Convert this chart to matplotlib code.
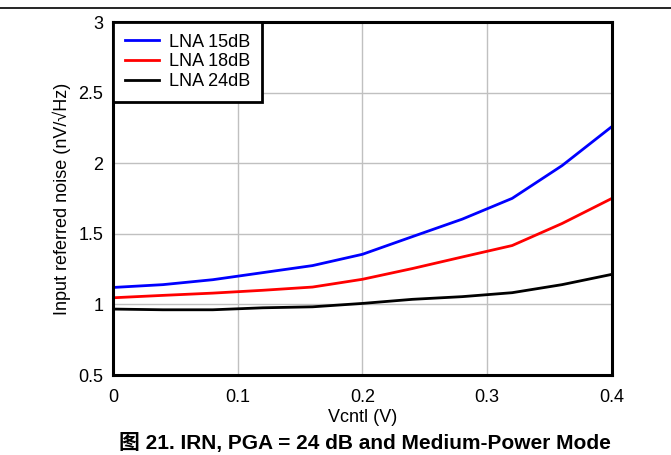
import numpy as np
import matplotlib.pyplot as plt
from matplotlib.lines import Line2D

plt.rcParams['font.family'] = ['Liberation Sans', 'Noto Sans CJK SC', 'DejaVu Sans']

# -------------------------------------------------------
# Data
# -------------------------------------------------------

vcntl = [0.0, 0.04, 0.08, 0.12, 0.16, 0.20, 0.24, 0.28, 0.32, 0.36, 0.40]

lna_15 = [1.12, 1.14, 1.175, 1.225, 1.275, 1.355, 1.48, 1.604, 1.751, 1.983, 2.26]
lna_18 = [1.047, 1.064, 1.08, 1.10, 1.123, 1.178, 1.254, 1.336, 1.417, 1.573, 1.751]
lna_24 = [0.967, 0.962, 0.962, 0.976, 0.983, 1.007, 1.036, 1.055, 1.083, 1.14, 1.213]

labels = ["LNA 15dB", "LNA 18dB", "LNA 24dB"]
colors = ["#0000ff", "#ff0000", "#000000"]

xticks = [0, 0.1, 0.2, 0.3, 0.4]
xtick_labels = ["0", "0.1", "0.2", "0.3", "0.4"]
yticks = [0.5, 1, 1.5, 2, 2.5, 3]
ytick_labels = ["0.5", "1", "1.5", "2", "2.5", "3"]

# -------------------------------------------------------
# Plot
# -------------------------------------------------------

fig = plt.figure(figsize=(6.71, 4.55), dpi=100)
ax = fig.add_axes([0.1684, 0.1758, 0.7436, 0.7758])

for ys, lab, col in zip([lna_15, lna_18, lna_24], labels, colors):
    ax.plot(vcntl, ys, color=col, linewidth=2, label=lab)

ax.set_xlim(0, 0.4)
ax.set_ylim(0.5, 3)
ax.set_xticks(xticks)
ax.set_xticklabels(xtick_labels)
ax.set_yticks(yticks)
ax.set_yticklabels(ytick_labels)
ax.tick_params(length=0, labelsize=13)
ax.tick_params(axis="x", pad=10)
ax.tick_params(axis="y", pad=7)

ax.grid(True, color="#c0c0c0", linewidth=1)
ax.set_axisbelow(True)

for s in ax.spines.values():
    s.set_linewidth(2.2)
    s.set_color("black")

ax.set_xlabel("Vcntl (V)", fontsize=13, labelpad=2)
ax.set_ylabel("Input referred noise (nV/\u221aHz)", fontsize=13, labelpad=5)

leg = ax.legend(loc="upper left", fontsize=13, fancybox=False,
                framealpha=1, edgecolor="black", borderaxespad=0,
                handlelength=1.9, handletextpad=0.55, labelspacing=0.15,
                borderpad=0.65)
leg.get_frame().set_linewidth(2)

fig.text(0.544, 0.026, "图 21. IRN, PGA = 24 dB and Medium-Power Mode",
         ha="center", va="center", fontsize=15, fontweight="bold")

fig.add_artist(Line2D([0, 1], [0.982, 0.982], color="black", linewidth=1.2))

fig.savefig("out.png", dpi=100)
